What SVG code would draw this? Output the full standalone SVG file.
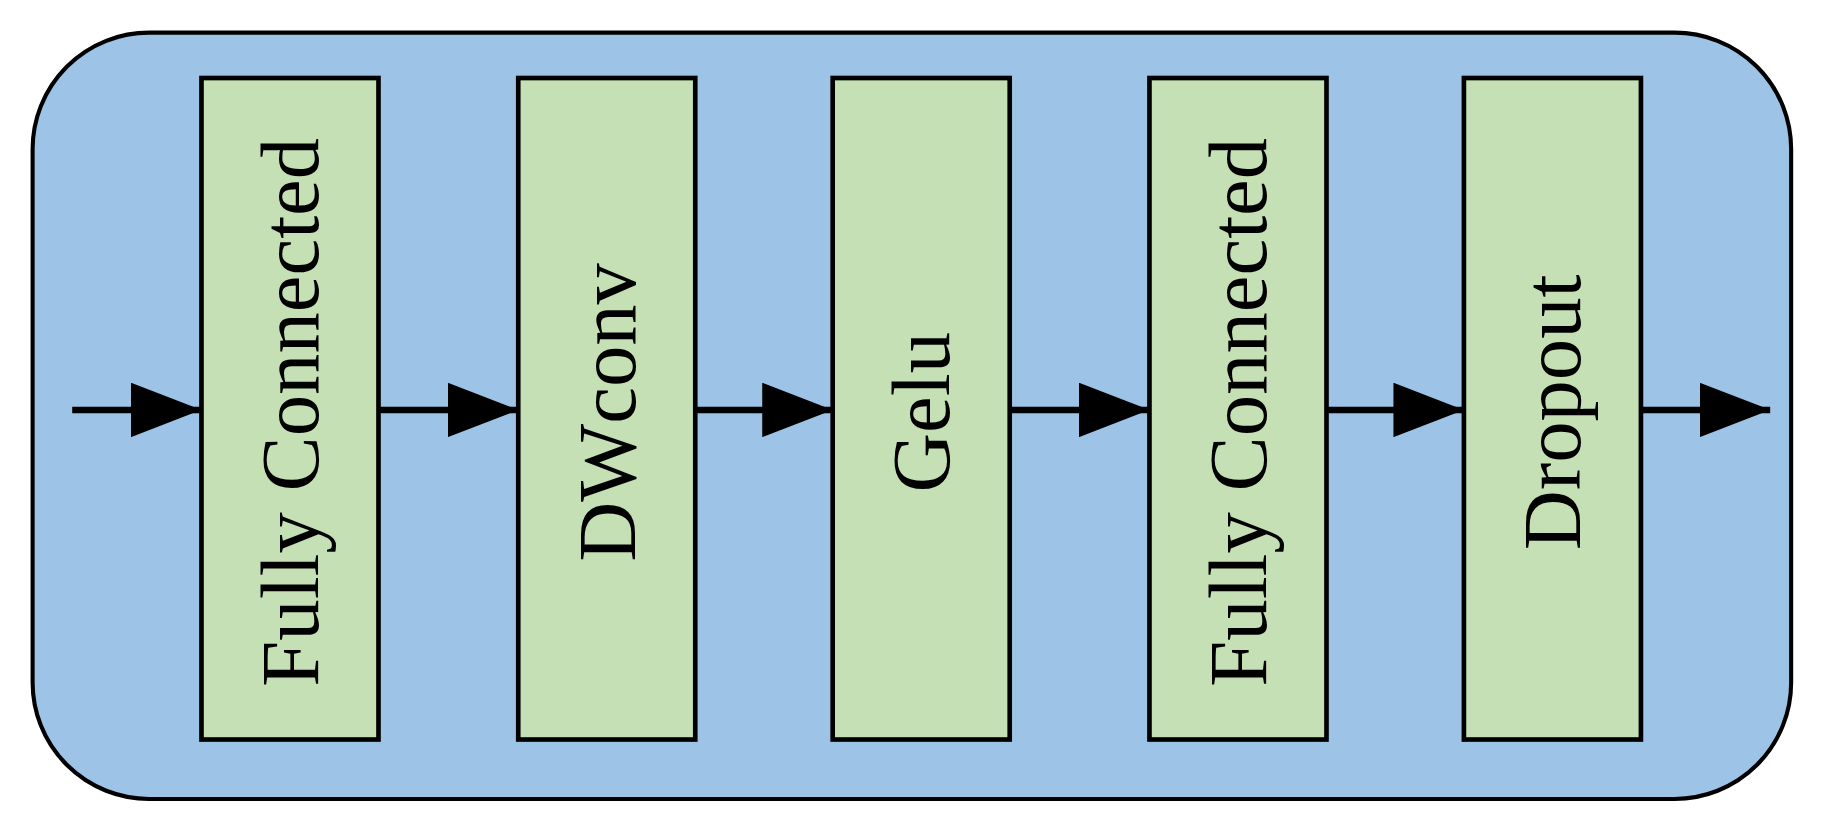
<svg xmlns="http://www.w3.org/2000/svg" width="1826" height="838" viewBox="0 0 1826 838">
<style>
.b{fill:#c5e0b4;stroke:#000;stroke-width:4}
.t{font-family:"Liberation Serif",serif;font-size:71px;text-anchor:middle;dominant-baseline:central}
.c line{stroke:#000;stroke-width:5.5}
</style>
<defs><marker id="a" markerWidth="11" markerHeight="8.5" refX="11" refY="4.25" orient="auto" markerUnits="strokeWidth"><path d="M0,0L11,4.25L0,8.5z" fill="#000"/></marker></defs>
<g transform="scale(1.1646)">
<rect x="28" y="28" width="1510" height="658" rx="100" fill="#9dc3e6" stroke="#000" stroke-width="3.5"/>
<g id="n1"><rect class="b" x="173" y="67" width="152" height="568"/><text class="t" transform="translate(249,354) rotate(-90)">Fully Connected</text></g>
<g id="n2"><rect class="b" x="445" y="67" width="152" height="568"/><text class="t" transform="translate(521,354) rotate(-90)">DWconv</text></g>
<g id="n3"><rect class="b" x="715" y="67" width="152" height="568"/><text class="t" transform="translate(791,354) rotate(-90)">Gelu</text></g>
<g id="n4"><rect class="b" x="987" y="67" width="152" height="568"/><text class="t" transform="translate(1063,354) rotate(-90)">Fully Connected</text></g>
<g id="n5"><rect class="b" x="1257" y="67" width="152" height="568"/><text class="t" transform="translate(1333,354) rotate(-90)">Dropout</text></g>
<g class="c">
<line x1="62" y1="352" x2="173" y2="352" marker-end="url(#a)"/>
<line x1="325" y1="352" x2="445" y2="352" marker-end="url(#a)"/>
<line x1="597" y1="352" x2="715" y2="352" marker-end="url(#a)"/>
<line x1="867" y1="352" x2="987" y2="352" marker-end="url(#a)"/>
<line x1="1139" y1="352" x2="1257" y2="352" marker-end="url(#a)"/>
<line x1="1409" y1="352" x2="1520" y2="352" marker-end="url(#a)"/>
</g>
</g>
</svg>
